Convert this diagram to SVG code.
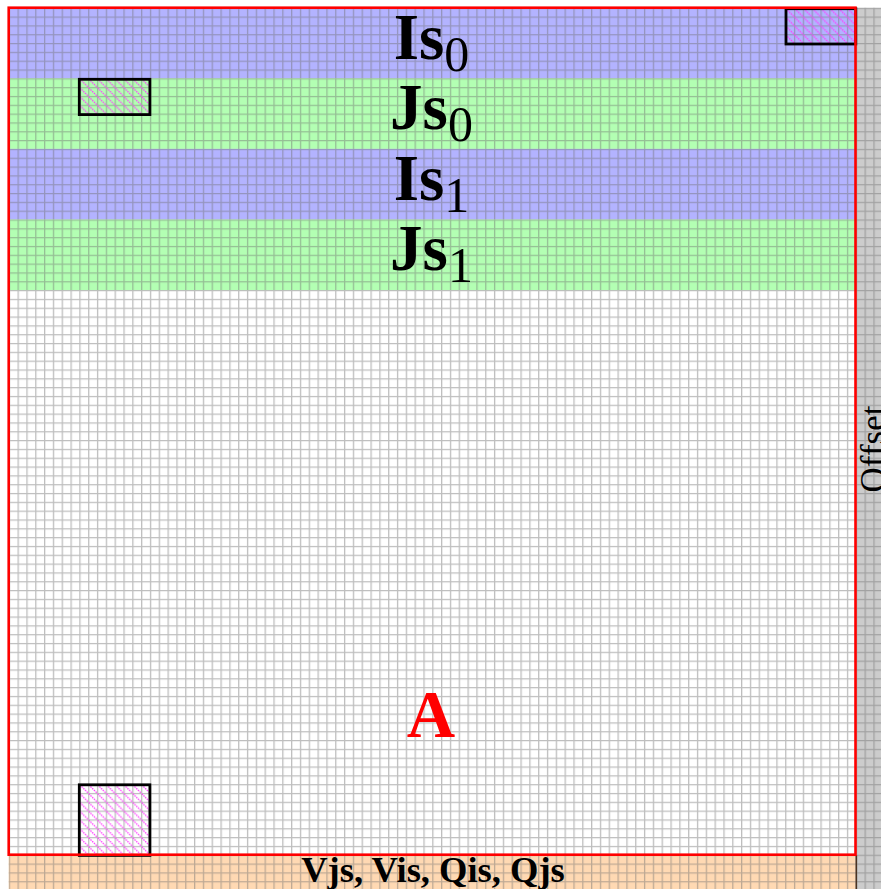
<svg xmlns="http://www.w3.org/2000/svg" width="881" height="889" viewBox="0 0 881 889">
  <style>
    .serif { font-family: "Liberation Serif", "Times New Roman", serif; }
    .band-i { fill: #b3b3ff; }
    .band-j { fill: #b3ffb3; }
    .box { fill: url(#hatch); stroke: #000; stroke-width: 2.8; }
    .lbl { font-size: 65px; font-weight: bold; fill: #000; }
    .sub { font-size: 50px; font-weight: normal; }
  </style>
  <defs>
    <pattern id="grid" x="8.7" y="7.7" width="8.823" height="8.823" patternUnits="userSpaceOnUse">
      <path d="M0 0.65H8.823M0.65 0V8.823" stroke="#707070" stroke-opacity="0.45" stroke-width="1.3" fill="none"/>
    </pattern>
    <pattern id="hatch" x="8.7" y="7.7" width="8.823" height="8.823" patternUnits="userSpaceOnUse">
      <path d="M-1 -1L9.823 9.823M-1 -9.823L9.823 1M-9.823 -1L1 9.823" stroke="#ff3cff" stroke-width="1.3" stroke-dasharray="1.5 0.9" fill="none"/>
    </pattern>
  </defs>

  <rect width="881" height="889" fill="#ffffff"/>

  <g id="matrix-A">
    <rect x="8.7" y="7.7" width="847" height="847" fill="#ffffff"/>
  </g>
  <g id="band-Is0"><rect class="band-i" x="8.7" y="7.7" width="847" height="70.6"/></g>
  <g id="band-Js0"><rect class="band-j" x="8.7" y="78.3" width="847" height="70.6"/></g>
  <g id="band-Is1"><rect class="band-i" x="8.7" y="148.9" width="847" height="70.6"/></g>
  <g id="band-Js1"><rect class="band-j" x="8.7" y="219.5" width="847" height="70.6"/></g>
  <g id="offset-column"><rect x="855.7" y="7.7" width="30" height="885" fill="#cccccc"/></g>
  <g id="vector-bar"><rect x="8.7" y="854.7" width="847" height="40" fill="#ffd9b3"/></g>

  <rect x="8.7" y="7.7" width="880" height="890" fill="url(#grid)"/>

  <g id="box-top-right"><rect class="box" x="786" y="8.7" width="69.8" height="35.3"/></g>
  <g id="box-top-left"><rect class="box" x="79.3" y="79.3" width="70.6" height="35.3"/></g>
  <g id="box-bottom-left"><rect class="box" x="79.3" y="784.8" width="70.6" height="70.6"/></g>

  <line x1="856.3" y1="855" x2="856.3" y2="889" stroke="#4a3322" stroke-width="1.6"/>
  <rect x="8.7" y="7.7" width="846.8" height="847" fill="none" stroke="#ff0000" stroke-width="2.6"/>

  <g id="labels" class="serif">
    <text class="lbl" x="431.5" y="58.5" text-anchor="middle">Is<tspan class="sub" dy="12">0</tspan></text>
    <text class="lbl" x="431.5" y="129.1" text-anchor="middle">Js<tspan class="sub" dy="12">0</tspan></text>
    <text class="lbl" x="431.5" y="199.7" text-anchor="middle">Is<tspan class="sub" dy="12">1</tspan></text>
    <text class="lbl" x="431.5" y="270.3" text-anchor="middle">Js<tspan class="sub" dy="12">1</tspan></text>
    <text x="431" y="737" text-anchor="middle" font-size="67" font-weight="bold" fill="#ff0000">A</text>
    <text x="433" y="882" text-anchor="middle" font-size="36.5" font-weight="bold" fill="#000">Vjs, Vis, Qis, Qjs</text>
    <text transform="translate(885,449) rotate(-90)" text-anchor="middle" font-size="35" fill="#000">Offset</text>
  </g>
</svg>
